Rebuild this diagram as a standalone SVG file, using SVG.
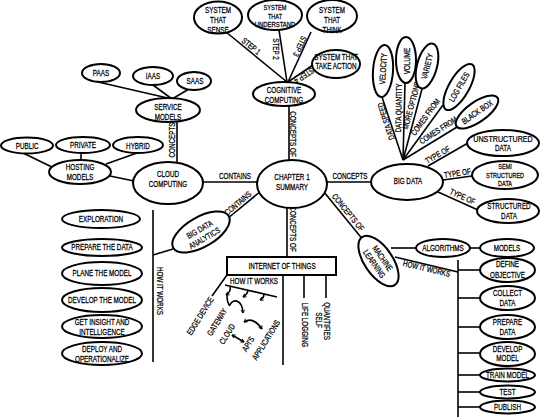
<svg xmlns="http://www.w3.org/2000/svg" width="545" height="418" viewBox="0 0 545 418">
<defs>
<style>
.n ellipse, .n rect {fill:#fff;stroke:#000;stroke-width:2}
text {font-family:"Liberation Sans",Arial,sans-serif;font-size:8.4px;text-anchor:middle;fill:#000;stroke:#000;stroke-width:0.25;transform-box:fill-box;transform-origin:center;transform:scale(0.75,1)}
.s text {font-size:7.4px}
#connectors line, #connectors path {stroke:#000;stroke-width:1.6;fill:none}
</style>
<marker id="ah" viewBox="0 0 8 8" refX="6" refY="4" markerWidth="5" markerHeight="5" orient="auto-start-reverse" markerUnits="userSpaceOnUse"><path d="M1,1 L6,4 L1,7" fill="none" stroke="#000" stroke-width="1.4"/></marker>
</defs>
<rect width="545" height="418" fill="#fff"/>
<g id="connectors">
<line x1="289" y1="106" x2="289" y2="161"/>
<g transform="translate(290,134) rotate(90)"><text>CONCEPTS OF</text></g>
<line x1="287" y1="82" x2="226" y2="32"/>
<g transform="translate(248,50) rotate(39)"><text y="-2">STEP 1</text></g>
<line x1="287" y1="82" x2="279" y2="30"/>
<g transform="translate(273,49) rotate(90)"><text>STEP 2</text></g>
<line x1="288" y1="82" x2="311" y2="32"/>
<g transform="translate(303.6,48) rotate(115)"><text y="7">STEP 3</text></g>
<line x1="288" y1="82" x2="313" y2="65"/>
<g transform="translate(302,72.5) rotate(146)"><text y="-1">STEP 4</text></g>
<line x1="172" y1="99" x2="98" y2="82"/>
<line x1="172" y1="99" x2="153" y2="85"/>
<line x1="172" y1="99" x2="189" y2="89"/>
<line x1="177" y1="121" x2="177" y2="163"/>
<g transform="translate(175,140) rotate(-90)"><text>CONCEPTS</text></g>
<line x1="23" y1="153" x2="54" y2="168"/>
<line x1="81" y1="153" x2="81" y2="161"/>
<line x1="137" y1="153" x2="106" y2="164"/>
<line x1="110" y1="176" x2="134" y2="181"/>
<line x1="203" y1="182" x2="258" y2="182"/>
<text x="235" y="179">CONTAINS</text>
<line x1="261" y1="191" x2="227" y2="219"/>
<g transform="translate(241,207) rotate(-40)"><text y="-2">CONTAINS</text></g>
<line x1="173" y1="249" x2="153" y2="255"/>
<line x1="153" y1="210" x2="153" y2="362"/>
<g transform="translate(157,291) rotate(90)"><text>HOW IT WORKS</text></g>
<line x1="287" y1="208" x2="287" y2="257"/>
<g transform="translate(290,229) rotate(90)"><text>CONCEPTS OF</text></g>
<line x1="283" y1="275" x2="283" y2="365"/>
<line x1="304" y1="275" x2="304" y2="298"/>
<line x1="326" y1="275" x2="326" y2="298"/>
<g transform="translate(302,325) rotate(90)"><text>LIFE LOGGING</text></g>
<g transform="translate(324,321) rotate(90)"><text>QUANTIFIES</text></g>
<g transform="translate(316,320) rotate(90)"><text>SELF</text></g>
<line x1="227" y1="275" x2="212" y2="296"/>
<text x="254" y="284">HOW IT WORKS</text>
<line x1="225" y1="285" x2="277" y2="297"/>
<path d="M230,287 C231,290 229,293 226,295" marker-end="url(#ah)"/>
<path d="M248,290 C248,293 246,295 243,297" marker-end="url(#ah)"/>
<path d="M264,294 C264,297 262,299 260,300" marker-end="url(#ah)"/>
<path d="M227,295 Q227,303 230,306"/>
<path d="M230,305 C232,299 242,298 243,313" marker-end="url(#ah)"/>
<path d="M244,322 Q253,316 262,329" marker-start="url(#ah)" marker-end="url(#ah)"/>
<path d="M232,335 L244,342" marker-start="url(#ah)" marker-end="url(#ah)"/>
<g transform="translate(200,316) rotate(-58)"><text y="3">EDGE DEVICE</text></g>
<g transform="translate(217,322) rotate(-58)"><text y="3">GATEWAY</text></g>
<g transform="translate(227,334) rotate(-58)"><text y="3">CLOUD</text></g>
<g transform="translate(248,344) rotate(-58)"><text y="3">API'S</text></g>
<g transform="translate(266,340) rotate(-58)"><text y="3">APPLICATIONS</text></g>
<line x1="327" y1="182" x2="372" y2="182"/>
<text x="350" y="179">CONCEPTS</text>
<line x1="324" y1="192" x2="364" y2="241"/>
<g transform="translate(343.5,216) rotate(51)"><text y="-3">CONCEPTS OF</text></g>
<line x1="403" y1="160" x2="382" y2="97"/>
<g transform="translate(389.7,120) rotate(-108)"><text y="-1">DATA SPEED</text></g>
<line x1="403" y1="160" x2="405" y2="83"/>
<g transform="translate(404,108) rotate(-89)"><text y="-2.5">DATA QUANTITY</text></g>
<line x1="403" y1="160" x2="422" y2="89"/>
<g transform="translate(417,107) rotate(-75)"><text y="-3">MORE OPTIONS</text></g>
<line x1="403" y1="160" x2="443" y2="105"/>
<g transform="translate(431,121) rotate(-54)"><text y="-4">COMES FROM</text></g>
<line x1="403" y1="160" x2="462" y2="124"/>
<g transform="translate(442,136) rotate(-33)"><text y="-4">COMES FROM</text></g>
<line x1="428" y1="166" x2="468" y2="143"/>
<g transform="translate(440,159) rotate(-30)"><text y="-2">TYPE OF</text></g>
<line x1="443" y1="180" x2="472" y2="176"/>
<g transform="translate(458,178) rotate(-8)"><text y="-2">TYPE OF</text></g>
<line x1="438" y1="192" x2="478" y2="210"/>
<g transform="translate(460,202) rotate(24)"><text y="-3">TYPE OF</text></g>
<line x1="391" y1="248" x2="416" y2="248"/>
<line x1="470" y1="248" x2="480" y2="248"/>
<line x1="395" y1="257" x2="458" y2="272"/>
<g transform="translate(427.5,264.6) rotate(13.4)"><text y="7">HOW IT WORKS</text></g>
<line x1="458" y1="260" x2="458" y2="417"/>
<line x1="458" y1="270" x2="480" y2="270"/>
<line x1="458" y1="298" x2="480" y2="298"/>
<line x1="458" y1="327" x2="480" y2="327"/>
<line x1="458" y1="353" x2="480" y2="353"/>
<line x1="458" y1="375" x2="480" y2="375"/>
<line x1="458" y1="392" x2="480" y2="392"/>
<line x1="458" y1="407" x2="480" y2="407"/>
</g>
<g id="chapter" class="n"><ellipse cx="292" cy="184" rx="35" ry="24"/><text x="292" y="180">CHAPTER 1</text><text x="292" y="190">SUMMARY</text></g>
<g id="cognitive" class="n"><ellipse cx="284" cy="94" rx="31" ry="12"/><text x="284" y="93">COGNITIVE</text><text x="284" y="103">COMPUTING</text></g>
<g id="sense" class="n"><ellipse cx="218" cy="17.5" rx="24" ry="16"/><text x="218" y="13">SYSTEM</text><text x="218" y="23">THAT</text><text x="218" y="33">SENSE</text></g>
<g id="understand" class="n s"><ellipse cx="275" cy="15" rx="27" ry="15"/><text x="275" y="10.5">SYSTEM</text><text x="275" y="19">THAT</text><text x="275" y="27.5" style="transform:scale(0.8,1)">UNDERSTAND</text></g>
<g id="think" class="n"><ellipse cx="332" cy="16" rx="25" ry="16"/><text x="332" y="13">SYSTEM</text><text x="332" y="23">THAT</text><text x="332" y="33">THINK</text></g>
<g id="action" class="n"><ellipse cx="336" cy="64" rx="24" ry="14"/><text x="336" y="60">SYSTEM THAT</text><text x="336" y="69">TAKE ACTION</text></g>
<g id="service" class="n"><ellipse cx="168" cy="110" rx="32" ry="12"/><text x="168" y="110">SERVICE</text><text x="168" y="120">MODELS</text></g>
<g id="paas" class="n"><ellipse cx="101" cy="73" rx="19" ry="9"/><text x="101" y="76">PAAS</text></g>
<g id="iaas" class="n"><ellipse cx="153" cy="76" rx="20" ry="9"/><text x="153" y="79">IAAS</text></g>
<g id="saas" class="n"><ellipse cx="194" cy="81" rx="17" ry="9"/><text x="195" y="84">SAAS</text></g>
<g id="cloud" class="n"><ellipse cx="168" cy="183" rx="35" ry="21"/><text x="168" y="177">CLOUD</text><text x="168" y="187">COMPUTING</text></g>
<g id="hosting" class="n"><ellipse cx="80" cy="172" rx="31" ry="12"/><text x="80" y="170">HOSTING</text><text x="80" y="180">MODELS</text></g>
<g id="public" class="n"><ellipse cx="27" cy="145.5" rx="26" ry="8"/><text x="27" y="149">PUBLIC</text></g>
<g id="private" class="n"><ellipse cx="83" cy="145" rx="27" ry="8"/><text x="83" y="148">PRIVATE</text></g>
<g id="hybrid" class="n"><ellipse cx="138" cy="145" rx="25" ry="8"/><text x="138" y="149">HYBRID</text></g>
<g id="bda" class="n" transform="translate(201,232) rotate(-30)"><ellipse cx="0" cy="0" rx="32" ry="15"/><text x="0" y="0">BIG DATA</text><text x="0" y="10">ANALYTICS</text></g>
<g id="exploration" class="n"><ellipse cx="101" cy="219" rx="39" ry="9"/><text x="101" y="222">EXPLORATION</text></g>
<g id="prepare-the-data" class="n"><ellipse cx="102" cy="247.5" rx="40" ry="8.5"/><text x="102" y="250">PREPARE THE DATA</text></g>
<g id="plane-the-model" class="n"><ellipse cx="102" cy="273.5" rx="40" ry="11.5"/><text x="102" y="276">PLANE THE MODEL</text></g>
<g id="develop-the-model" class="n"><ellipse cx="102" cy="300" rx="40" ry="12"/><text x="102" y="303">DEVELOP THE MODEL</text></g>
<g id="insight" class="n"><ellipse cx="102" cy="326.5" rx="40" ry="11.5"/><text x="102" y="325">GET INSIGHT AND</text><text x="102" y="335">INTELLIGENCE</text></g>
<g id="deploy" class="n"><ellipse cx="102" cy="353.5" rx="40" ry="11.5"/><text x="102" y="352">DEPLOY AND</text><text x="102" y="362">OPERATIONALIZE</text></g>
<g id="iot" class="n"><rect x="227" y="257" width="109" height="18"/><text x="282" y="269">INTERNET OF THINGS</text></g>
<g id="bigdata" class="n"><ellipse cx="407" cy="182" rx="36" ry="18"/><text x="408" y="184">BIG DATA</text></g>
<g id="velocity" class="n"><ellipse cx="0" cy="0" rx="10" ry="26" transform="translate(383,71) rotate(4)"/><g transform="translate(386,69) rotate(-86)"><text>VELOCITY</text></g></g>
<g id="volume" class="n"><ellipse cx="406" cy="60" rx="10" ry="23"/><g transform="translate(409.5,61) rotate(-90)"><text>VOLUME</text></g></g>
<g id="variety" class="n"><ellipse cx="0" cy="0" rx="10" ry="23" transform="translate(427,66) rotate(15)"/><g transform="translate(430,67) rotate(-75)"><text>VARIETY</text></g></g>
<g id="logfiles" class="n" transform="translate(459,87) rotate(-60)"><ellipse cx="0" cy="0" rx="26" ry="10"/><text y="3">LOG FILES</text></g>
<g id="blackbox" class="n" transform="translate(477,112) rotate(-35)"><ellipse cx="0" cy="0" rx="25" ry="10"/><text y="3">BLACK BOX</text></g>
<g id="unstructured" class="n"><ellipse cx="503" cy="143" rx="36" ry="13"/><text x="503" y="142" style="transform:scale(0.85,1)">UNSTRUCTURED</text><text x="503" y="151">DATA</text></g>
<g id="semi" class="n s"><ellipse cx="505" cy="175" rx="33" ry="14"/><text x="505" y="169.5">SEMI</text><text x="505" y="178">STRUCTURED</text><text x="505" y="186.5">DATA</text></g>
<g id="structured" class="n"><ellipse cx="508" cy="211" rx="31" ry="12"/><text x="509" y="209">STRUCTURED</text><text x="509" y="219">DATA</text></g>
<g id="machine" class="n" transform="translate(378.5,261) rotate(55.5)"><ellipse cx="0" cy="0" rx="29" ry="14"/><text y="-2">MACHINE</text><text y="8">LEARNING</text></g>
<g id="algorithms" class="n"><ellipse cx="443" cy="248" rx="27" ry="9"/><text x="443" y="251">ALGORITHMS</text></g>
<g id="models" class="n"><ellipse cx="507" cy="248" rx="27" ry="9"/><text x="507" y="251">MODELS</text></g>
<g id="define" class="n"><ellipse cx="507.5" cy="270" rx="27.5" ry="12"/><text x="507.5" y="267">DEFINE</text><text x="507.5" y="278">OBJECTIVE</text></g>
<g id="collect" class="n"><ellipse cx="507.5" cy="298" rx="27.5" ry="12"/><text x="507.5" y="296">COLLECT</text><text x="507.5" y="306">DATA</text></g>
<g id="prepare" class="n"><ellipse cx="507.5" cy="327" rx="27.5" ry="12"/><text x="507.5" y="325">PREPARE</text><text x="507.5" y="335">DATA</text></g>
<g id="develop" class="n"><ellipse cx="507.5" cy="354" rx="27.5" ry="12"/><text x="507.5" y="352">DEVELOP</text><text x="507.5" y="361">MODEL</text></g>
<g id="train" class="n"><ellipse cx="507.5" cy="375" rx="27.5" ry="6.5"/><text x="507.5" y="378">TRAIN MODEL</text></g>
<g id="test" class="n"><ellipse cx="507.5" cy="392" rx="27.5" ry="6.5"/><text x="507.5" y="395">TEST</text></g>
<g id="publish" class="n"><ellipse cx="507.5" cy="407" rx="27.5" ry="6.5"/><text x="507.5" y="410">PUBLISH</text></g>
</svg>
